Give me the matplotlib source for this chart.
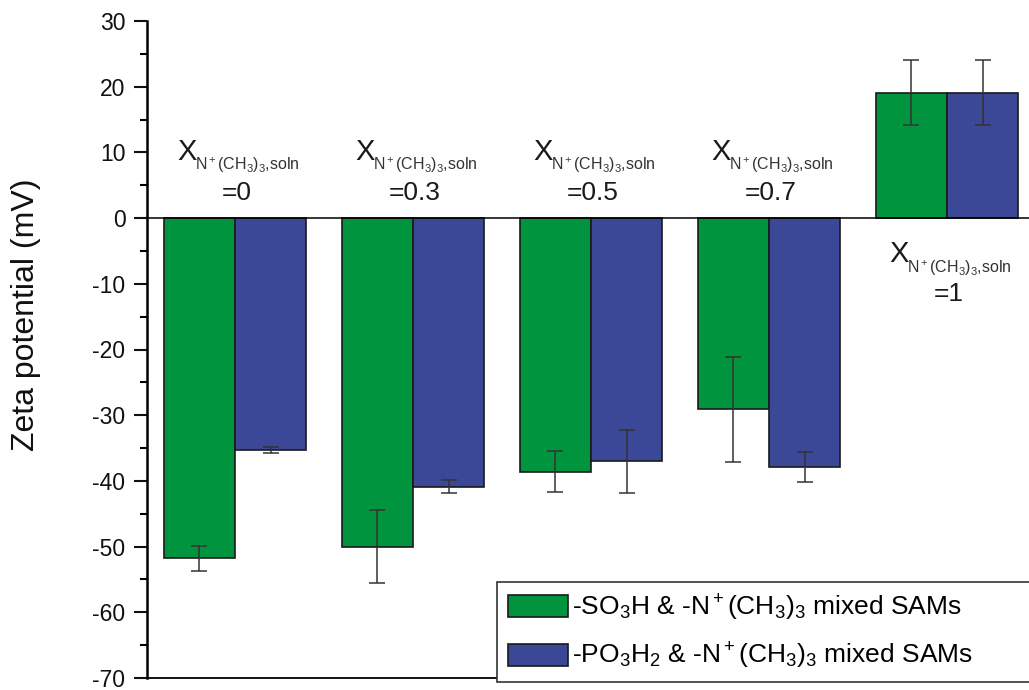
import matplotlib
matplotlib.use("Agg")
import matplotlib.pyplot as plt
import numpy as np
from matplotlib.ticker import MultipleLocator

plt.rcParams["font.family"] = ["Liberation Sans", "DejaVu Sans"]
plt.rcParams["mathtext.fontset"] = "custom"
plt.rcParams["mathtext.rm"] = "Liberation Sans"
plt.rcParams["mathtext.it"] = "Liberation Sans:italic"
plt.rcParams["mathtext.default"] = "regular"
plt.rcParams["axes.unicode_minus"] = False

# Surface composition groups (mole fraction of N+(CH3)3 thiol in solution)
fractions = ["0", "0.3", "0.5", "0.7", "1"]

# Zeta potential (mV) and standard deviations
so3h_zeta = [-51.8, -50.0, -38.6, -29.1, 19.1]
so3h_err = [1.9, 5.5, 3.1, 8.0, 5.0]
po3h2_zeta = [-35.3, -40.9, -37.0, -37.9, 19.1]
po3h2_err = [0.5, 1.0, 4.8, 2.3, 5.0]

series_labels = [
    r"-SO$_3$H & -N$^+$(CH$_3$)$_3$ mixed SAMs",
    r"-PO$_3$H$_2$ & -N$^+$(CH$_3$)$_3$ mixed SAMs",
]
green = "#00943f"
blue = "#3a4897"

W, H = 1029, 690
fig = plt.figure(figsize=(W / 100, H / 100), dpi=100)
ax = fig.add_axes([147 / W, 12 / H, (1035 - 147) / W, (678 - 21) / H])

x = np.arange(len(fractions))
bw = 0.4
edge = "#1a1a1a"
b1 = ax.bar(x - bw / 2, so3h_zeta, bw, color=green, edgecolor=edge,
            linewidth=1.2, label=series_labels[0], zorder=2)
b2 = ax.bar(x + bw / 2, po3h2_zeta, bw, color=blue, edgecolor=edge,
            linewidth=1.2, label=series_labels[1], zorder=2)
ekw = dict(fmt="none", ecolor="#333333", elinewidth=1.1, capsize=6,
           capthick=1.1, zorder=3)
ax.errorbar(x - bw / 2, so3h_zeta, yerr=so3h_err, **ekw)
ax.errorbar(x + bw / 2, po3h2_zeta, yerr=po3h2_err, **ekw)

ax.axhline(0, color="black", linewidth=1.1, zorder=4)

ax.set_xlim(-0.494, 4.494)
ax.set_ylim(-70, 30)
ax.yaxis.set_major_locator(MultipleLocator(10))
ax.yaxis.set_minor_locator(MultipleLocator(5))
ax.set_xticks([])
ax.tick_params(axis="y", which="major", direction="out", length=9.5,
               width=1.5, labelsize=16.5, pad=6, colors="#111111")
ax.tick_params(axis="y", which="minor", direction="out", length=5,
               width=1.5)
for s in ("top", "right"):
    ax.spines[s].set_visible(False)
ax.spines["left"].set_linewidth(1.8)
ax.spines["bottom"].set_linewidth(1.3)

fig.text(26 / W, 1 - 315 / H, "Zeta potential (mV)", rotation=90,
         ha="center", va="center", fontsize=23, color="#111111")

# Group labels: X_{N+(CH3)3,soln} = value
sub = r"N$^+$(CH$_3$)$_3$,soln"
tc = "#1a1a1a"
for i, f in enumerate(fractions):
    if float(f) < 1:
        yx, ys, ye = 8.9, 7.3, 2.7
    else:
        yx, ys, ye = -6.7, -8.3, -12.6
    ax.annotate("X", xy=(x[i], yx), xytext=(-38, 0), textcoords="offset pixels",
                ha="right", va="baseline", fontsize=21, color=tc)
    ax.annotate(sub, xy=(x[i], ys), xytext=(-40, 0), textcoords="offset pixels",
                ha="left", va="baseline", fontsize=11.5, color="#333333")
    ax.annotate("=" + f, xy=(x[i], ye), xytext=(2, 0), textcoords="offset pixels",
                ha="center", va="baseline", fontsize=19, color=tc)

leg = ax.legend(handles=[b1, b2], loc="lower left",
                bbox_to_anchor=(497 / W, 1 - 682 / H, 560 / W, 100 / H),
                bbox_transform=fig.transFigure, mode="expand",
                borderaxespad=0, fontsize=19, handlelength=2.3,
                handleheight=0.92, handletextpad=0.15, labelspacing=0.7,
                borderpad=0.4, fancybox=False, framealpha=1)
leg.get_frame().set_edgecolor("#333333")
leg.get_frame().set_linewidth(1.2)
leg.set_zorder(5)

fig.savefig("out.png", dpi=100)
